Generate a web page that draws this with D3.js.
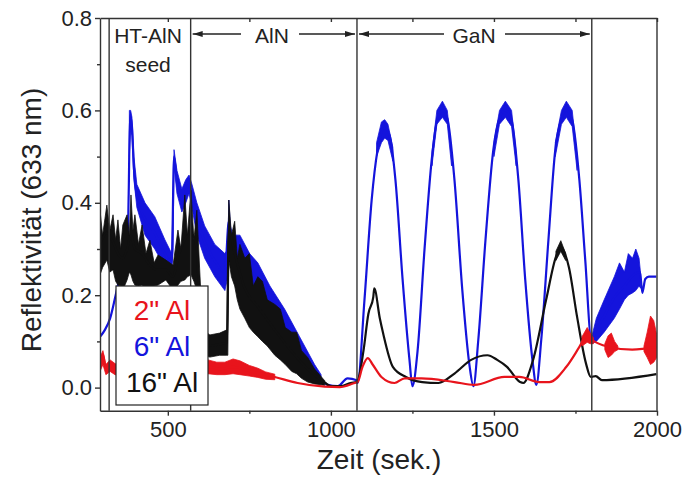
<!DOCTYPE html>
<html>
<head>
<meta charset="utf-8">
<script src="https://cdn.jsdelivr.net/npm/d3@7"></script>
<style>
  body { margin: 0; background: #fff; }
</style>
</head>
<body>
<div id="chart"></div>
<script>
// axis setup
var xDomain = [292, 2000];
var yDomain = [-0.05, 0.8];
var xMajor = [500, 1000, 1500, 2000];
var xMinor = [750, 1250, 1750];
var yMajor = [0, 0.2, 0.4, 0.6, 0.8];
var yMinor = [0.1, 0.3, 0.5, 0.7];
var phaseLines = [320, 570, 1080, 1800];

var legendLabels = ['2" Al', '6" Al', '16" Al'];
var colors = ['#e8141c', '#1414dc', '#111111'];

// 2" Al  [zeit, reflektivitaet]
var redLine = [[292,.05],[301,.072],[310,.04],[323,.048],[338,.04],[360,.035],[400,.035],[450,.03],[500,.03],
  [550,.035],[600,.04],[630,.045],[660,.04],[700,.045],[721,.042],[750,.036],[776,.032],[828,.023],[898,.01],
  [981,.002],[1027,.001],[1073,.01],[1082,.012],[1097,.045],[1113,.064],[1128,.05],[1155,.023],[1195,.01],
  [1226,.02],[1278,.02],[1379,.012],[1440,.006],[1532,.023],[1578,.023],[1639,.012],[1670,.012],[1722,.045],
  [1762,.088],[1786,.115],[1802,.103],[1854,.088],[1924,.082],[1998,.088]];
// noisy parts [zeit, low, high]
var redBands = [
  [[292,.035,.065],[301,.05,.08],[310,.028,.05],[323,.035,.06],[338,.028,.052],[360,.025,.045]],
  [[600,.028,.05],[623,.03,.06],[650,.028,.055],[675,.028,.055],[700,.03,.062],[721,.028,.058],[750,.025,.048],
   [776,.022,.042],[800,.018,.034],[828,.017,.029]],
  [[1770,.09,.11],[1786,.098,.13],[1795,.095,.118],[1805,.095,.108]],
  [[1840,.082,.095],[1850,.065,.112],[1860,.07,.118],[1870,.078,.10],[1880,.082,.09]],
  [[1960,.078,.09],[1970,.065,.12],[1980,.05,.155],[1990,.055,.145],[1999,.065,.115]]
];

// 6" Al
var blueLine = [[292,.11],[307,.125],[323,.15],[340,.2],[350,.23],[365,.25],[375,.27],[380,.42],[384,.59],
  [390,.565],[396,.475],[405,.415],[430,.365],[460,.335],[491,.29],[512,.27],[519,.5],[528,.445],[543,.405],
  [555,.425],[565,.44],[574,.415],[589,.365],[613,.315],[644,.275],[675,.25],[687,.36],[699,.295],[721,.295],
  [751,.26],[776,.235],[813,.19],[858,.145],[904,.09],[950,.037],[990,.006],[1021,.003],[1051,.02],[1079,.016],
  [1082,.01],[1103,.19],[1125,.406],[1143,.514],[1165,.562],[1180,.546],[1198,.449],[1220,.233],[1241,.06],
  [1250,.003],[1266,.081],[1287,.298],[1309,.492],[1327,.583],[1342,.60],[1357,.583],[1379,.449],[1403,.211],
  [1425,.048],[1437,.003],[1452,.103],[1474,.319],[1498,.514],[1517,.583],[1535,.60],[1554,.579],[1575,.449],
  [1596,.233],[1618,.06],[1630,.006],[1645,.103],[1667,.319],[1688,.514],[1707,.583],[1722,.60],[1740,.579],
  [1762,.449],[1780,.276],[1799,.103],[1814,.125],[1838,.155],[1869,.195],[1900,.22],[1930,.245],[1948,.25],
  [1955,.205],[1964,.235],[1975,.24],[1998,.24]];
var blueBands = [
  [[382,.50,.60],[386,.56,.60],[390,.545,.585],[396,.45,.50],[405,.39,.44],[430,.33,.40],[460,.30,.37],
   [491,.26,.32],[512,.25,.29],[516,.30,.40],[519,.48,.515],[528,.42,.47],[543,.38,.43],[555,.40,.45],
   [565,.42,.46],[574,.39,.44],[589,.33,.40],[613,.28,.35],[644,.24,.31],[675,.21,.29],[684,.24,.30],
   [687,.30,.406],[692,.27,.35],[699,.26,.33],[721,.26,.33],[751,.23,.29],[776,.20,.27],[813,.16,.22],
   [858,.12,.17],[904,.07,.11],[950,.025,.05],[970,.015,.028]],
  [[1140,.50,.53],[1155,.53,.575],[1165,.54,.58],[1175,.535,.57],[1190,.49,.52]],
  [[1310,.48,.51],[1325,.57,.60],[1342,.585,.62],[1357,.57,.60],[1370,.48,.51]],
  [[1500,.50,.53],[1517,.57,.60],[1535,.585,.62],[1554,.565,.60],[1568,.48,.51]],
  [[1688,.50,.53],[1707,.57,.60],[1722,.585,.62],[1740,.565,.60],[1755,.47,.50]],
  [[1800,.095,.11],[1814,.10,.15],[1838,.12,.19],[1869,.15,.24],[1885,.17,.27],[1900,.19,.25],[1912,.20,.29],
   [1925,.205,.28],[1935,.21,.30],[1945,.22,.28],[1950,.215,.245]]
];

// 16" Al
var blackLine = [[292,.31],[313,.335],[332,.315],[347,.29],[362,.28],[375,.30],[387,.33],[399,.30],[421,.29],
  [445,.265],[470,.255],[494,.255],[516,.24],[531,.28],[552,.32],[571,.335],[589,.30],[598,.15],[607,.095],
  [629,.09],[659,.094],[681,.097],[687,.34],[705,.29],[736,.215],[776,.175],[828,.125],[880,.078],[929,.04],
  [981,.011],[1000,.003],[1030,.003],[1060,.01],[1079,.012],[1085,.02],[1100,.08],[1115,.16],[1130,.196],
  [1133,.215],[1150,.15],[1160,.118],[1190,.045],[1230,.023],[1280,.012],[1330,.01],[1380,.031],[1430,.06],
  [1480,.07],[1510,.06],[1540,.045],[1580,.012],[1590,.01],[1620,.06],[1660,.19],[1690,.283],[1705,.304],
  [1730,.26],[1755,.153],[1782,.053],[1797,.023],[1812,.025],[1831,.016],[1998,.029]];
var blackBands = [
  [[292,.244,.384],[300,.26,.33],[313,.276,.395],[322,.25,.34],[332,.255,.374],[340,.23,.32],[347,.222,.363],
   [355,.22,.30],[362,.211,.352],[375,.233,.374],[382,.25,.33],[387,.244,.417],[393,.23,.34],[399,.222,.374],
   [410,.22,.31],[421,.222,.352],[433,.21,.29],[445,.211,.319],[458,.22,.27],[470,.222,.287],[494,.233,.276],
   [516,.211,.265],[531,.222,.341],[540,.23,.30],[552,.233,.417],[560,.24,.33],[571,.244,.427],[580,.23,.32],
   [589,.211,.384],[598,.10,.25],[607,.07,.125],[629,.066,.114],[659,.07,.118],[681,.07,.125],[684,.07,.30],
   [687,.276,.406],[695,.24,.33],[705,.22,.36],[713,.19,.28],[721,.17,.31],[736,.15,.28],[750,.13,.29],
   [762,.12,.22],[776,.11,.24],[790,.10,.23],[805,.09,.19],[828,.07,.18],[845,.06,.17],[860,.05,.13],
   [880,.035,.12],[895,.03,.12],[910,.02,.08],[929,.012,.065],[950,.008,.04],[981,.005,.015]],
  [[1690,.275,.295],[1705,.295,.318],[1720,.275,.29]]
];

var series = [
  {line: blueLine, bands: blueBands, color: colors[1]},
  {line: blackLine, bands: blackBands, color: colors[2]},
  {line: redLine, bands: redBands, color: colors[0]}
];

var width = 684, height = 479;
var margin = {top: 18, right: 27, bottom: 68.3, left: 100};
var font = "Arial, 'Liberation Sans', sans-serif";

var svg = d3.select('#chart').append('svg')
  .attr('width', width)
  .attr('height', height)
  .attr('font-family', font);

var x = d3.scaleLinear().domain(xDomain).range([margin.left, width - margin.right]);
var y = d3.scaleLinear().domain(yDomain).range([height - margin.bottom, margin.top]);

svg.append('clipPath').attr('id', 'plotclip')
  .append('rect')
  .attr('x', x(xDomain[0])).attr('y', y(yDomain[1]))
  .attr('width', x(xDomain[1]) - x(xDomain[0]))
  .attr('height', y(yDomain[0]) - y(yDomain[1]));

var plot = svg.append('g').attr('clip-path', 'url(#plotclip)');

var line = d3.line().x(d => x(d[0])).y(d => y(d[1])).curve(d3.curveMonotoneX);
var band = d3.area().x(d => x(d[0])).y0(d => y(d[1])).y1(d => y(d[2]));

series.forEach(function (s) {
  plot.append('g').selectAll('path')
    .data(s.bands)
    .join('path')
    .attr('d', band)
    .attr('fill', s.color)
    .attr('stroke', s.color)
    .attr('stroke-width', 0.8);
  plot.append('path')
    .attr('d', line(s.line))
    .attr('fill', 'none')
    .attr('stroke', s.color)
    .attr('stroke-width', 2.2)
    .attr('stroke-linejoin', 'round');
});

// phase separators
svg.append('g').selectAll('line')
  .data(phaseLines)
  .join('line')
  .attr('x1', d => x(d)).attr('x2', d => x(d))
  .attr('y1', y(yDomain[0])).attr('y2', y(yDomain[1]))
  .attr('stroke', '#333').attr('stroke-width', 1.4);

// axes
var xAxis = g => g
  .attr('transform', `translate(0,${y(yDomain[0])})`)
  .call(d3.axisBottom(x).tickValues(xMajor).tickSize(5).tickPadding(6).tickFormat(d3.format('d')).tickSizeOuter(0))
  .call(g => g.selectAll('.tick text').attr('font-size', '22px').attr('fill', '#222').attr('font-family', font));

var xAxisMinor = g => g
  .attr('transform', `translate(0,${y(yDomain[0])})`)
  .call(d3.axisBottom(x).tickValues(xMinor).tickSize(3).tickFormat('').tickSizeOuter(0))
  .call(g => g.select('.domain').remove());

var xTop = g => g
  .attr('transform', `translate(0,${y(yDomain[1])})`)
  .call(d3.axisBottom(x).tickValues(xMajor.concat(xMinor)).tickSize(4).tickFormat('').tickSizeOuter(0));

var yAxis = g => g
  .attr('transform', `translate(${x(xDomain[0])},0)`)
  .call(d3.axisLeft(y).tickValues(yMajor).tickSize(5).tickPadding(3).tickFormat(d3.format('.1f')).tickSizeOuter(0))
  .call(g => g.selectAll('.tick text').attr('font-size', '22px').attr('fill', '#222').attr('font-family', font));

var yAxisMinor = g => g
  .attr('transform', `translate(${x(xDomain[0])},0)`)
  .call(d3.axisLeft(y).tickValues(yMinor).tickSize(3).tickFormat('').tickSizeOuter(0))
  .call(g => g.select('.domain').remove());

[xAxis, xAxisMinor, xTop, yAxis, yAxisMinor].forEach(function (a) {
  svg.append('g').call(a)
    .call(g => g.selectAll('.domain, .tick line').attr('stroke', '#333').attr('stroke-width', 1.4));
});

svg.append('line')
  .attr('x1', x(xDomain[1])).attr('x2', x(xDomain[1]))
  .attr('y1', y(yDomain[0])).attr('y2', y(yDomain[1]))
  .attr('stroke', '#333').attr('stroke-width', 1.4);

// axis titles
svg.append('text')
  .attr('x', 379).attr('y', 469)
  .attr('text-anchor', 'middle')
  .attr('font-size', '28px').attr('fill', '#222')
  .text('Zeit (sek.)');

svg.append('text')
  .attr('transform', 'translate(41,220) rotate(-90)')
  .attr('text-anchor', 'middle')
  .attr('font-size', '28px').attr('fill', '#222')
  .text('Reflektivität (633 nm)');

// phase labels and arrows
var labelY = 43, arrowY = 34;
svg.append('text').attr('x', 148).attr('y', labelY).attr('text-anchor', 'middle')
  .attr('font-size', '21px').attr('fill', '#222').text('HT-AlN');
svg.append('text').attr('x', 148).attr('y', 72).attr('text-anchor', 'middle')
  .attr('font-size', '21px').attr('fill', '#222').text('seed');
svg.append('text').attr('x', 272).attr('y', labelY).attr('text-anchor', 'middle')
  .attr('font-size', '21px').attr('fill', '#222').text('AlN');
svg.append('text').attr('x', 474).attr('y', labelY).attr('text-anchor', 'middle')
  .attr('font-size', '21px').attr('fill', '#222').text('GaN');

svg.append('defs').append('marker')
  .attr('id', 'head').attr('viewBox', '0 0 10 6')
  .attr('refX', 10).attr('refY', 3)
  .attr('markerWidth', 10).attr('markerHeight', 6)
  .attr('markerUnits', 'userSpaceOnUse')
  .attr('orient', 'auto')
  .append('path').attr('d', 'M0,0L10,3L0,6Z').attr('fill', '#222');

// arrows run from the label out to the phase line
var arrows = [[241, x(570) + 2], [299, x(1080) - 2], [444, x(1080) + 2], [505, x(1800) - 2]];
svg.append('g').selectAll('line')
  .data(arrows)
  .join('line')
  .attr('x1', d => d[0]).attr('x2', d => d[1])
  .attr('y1', arrowY).attr('y2', arrowY)
  .attr('stroke', '#222').attr('stroke-width', 1.3)
  .attr('marker-end', 'url(#head)');

// legend
var legend = svg.append('g');
legend.append('rect')
  .attr('x', 116).attr('y', 286).attr('width', 92).attr('height', 119)
  .attr('fill', '#fff').attr('stroke', '#222').attr('stroke-width', 1.2);
legend.selectAll('text')
  .data(legendLabels)
  .join('text')
  .attr('x', 162)
  .attr('y', (d, i) => 320 + i * 36)
  .attr('text-anchor', 'middle')
  .attr('font-size', '28px')
  .attr('fill', (d, i) => colors[i])
  .text(d => d);
</script>
</body>
</html>
